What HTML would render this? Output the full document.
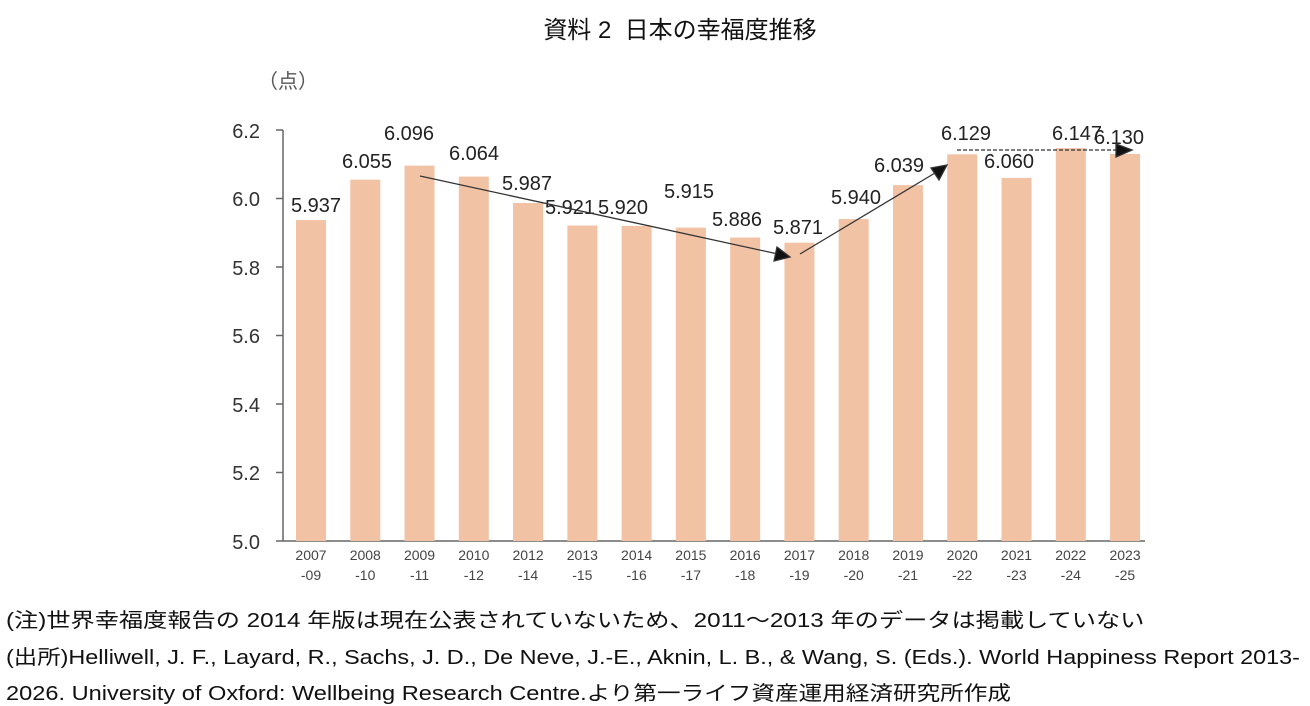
<!DOCTYPE html><html><head><meta charset="utf-8"><style>
body{margin:0;background:#fff;width:1310px;height:704px;overflow:hidden;font-family:"Liberation Sans","Noto Sans CJK JP",sans-serif}
.t{position:absolute;white-space:nowrap;color:#111}
.f{font-size:20px;transform-origin:0 50%}
</style></head><body>
<div class="t" style="left:0;width:1360px;text-align:center;top:10px;font-size:24px">資料 2&nbsp; 日本の幸福度推移</div>
<svg width="1310" height="704" style="position:absolute;left:0;top:0" font-family="Liberation Sans, sans-serif">
<text x="258" y="88" font-size="20" fill="#555" font-family="Liberation Sans, Noto Sans CJK JP, sans-serif">（点）</text>
<g font-size="20" fill="#333" text-anchor="end">
<text x="260" y="138">6.2</text><text x="260" y="206">6.0</text><text x="260" y="275">5.8</text><text x="260" y="343">5.6</text><text x="260" y="412">5.4</text><text x="260" y="480">5.2</text><text x="260" y="549">5.0</text></g>
<g stroke="#666" stroke-width="1.5"><line x1="283" y1="130" x2="283" y2="541"/>
<line x1="276" y1="130" x2="283" y2="130"/><line x1="276" y1="198.5" x2="283" y2="198.5"/><line x1="276" y1="267" x2="283" y2="267"/><line x1="276" y1="335.5" x2="283" y2="335.5"/><line x1="276" y1="404" x2="283" y2="404"/><line x1="276" y1="472.5" x2="283" y2="472.5"/><line x1="276" y1="541" x2="1145" y2="541"/></g>
<g fill="#F2C2A5" id="bars"></g>
<g font-size="14" fill="#444" text-anchor="middle" id="xl"></g>
<g font-size="20" fill="#222" text-anchor="middle">
<text x="316" y="212">5.937</text><text x="367" y="168">6.055</text><text x="409" y="140">6.096</text><text x="474" y="160">6.064</text><text x="527" y="190">5.987</text><text x="570" y="214">5.921</text><text x="623" y="214">5.920</text><text x="689" y="198">5.915</text><text x="737" y="226">5.886</text><text x="798" y="234">5.871</text><text x="856" y="204">5.940</text><text x="899" y="172">6.039</text><text x="966" y="140">6.129</text><text x="1009" y="168">6.060</text><text x="1077" y="140">6.147</text><text x="1119" y="144">6.130</text></g>
<g stroke="#333" stroke-width="1.3" fill="#111">
<line x1="420" y1="176" x2="778" y2="254"/><polygon points="790,257 774,261 777,247"/>
<line x1="800" y1="254" x2="935" y2="173"/><polygon points="947,165 939,180 931,168"/>
<line x1="957" y1="150" x2="1118" y2="150" stroke-dasharray="4,2"/><polygon points="1132,150 1116,144 1116,157"/></g>
</svg>
<div class="t f" style="left:6px;top:604px;transform:scaleX(1.21)">(注)世界幸福度報告の 2014 年版は現在公表されていないため、2011～2013 年のデータは掲載していない</div>
<div class="t f" style="left:6px;top:641px;transform:scaleX(1.17)">(出所)Helliwell, J. F., Layard, R., Sachs, J. D., De Neve, J.-E., Aknin, L. B., &amp; Wang, S. (Eds.). World Happiness Report 2013-</div>
<div class="t f" style="left:6px;top:677px;transform:scaleX(1.18)">2026. University of Oxford: Wellbeing Research Centre.より第一ライフ資産運用経済研究所作成</div>
<script>
var v=[5.937,6.055,6.096,6.064,5.987,5.921,5.920,5.915,5.886,5.871,5.940,6.039,6.129,6.060,6.147,6.130];
var l=[["2007","-09"],["2008","-10"],["2009","-11"],["2010","-12"],["2012","-14"],["2013","-15"],["2014","-16"],["2015","-17"],["2016","-18"],["2017","-19"],["2018","-20"],["2019","-21"],["2020","-22"],["2021","-23"],["2022","-24"],["2023","-25"]];
var b="",x="";
v.forEach(function(d,i){var cx=311+i*54.27,y=130+(6.2-d)*342.5;
b+='<rect x="'+(cx-15)+'" y="'+y+'" width="30" height="'+(541-y)+'"/>';
x+='<text x="'+cx+'" y="560">'+l[i][0]+'</text><text x="'+cx+'" y="580">'+l[i][1]+'</text>';});
document.getElementById("bars").innerHTML=b;document.getElementById("xl").innerHTML=x;
</script>
</body></html>
